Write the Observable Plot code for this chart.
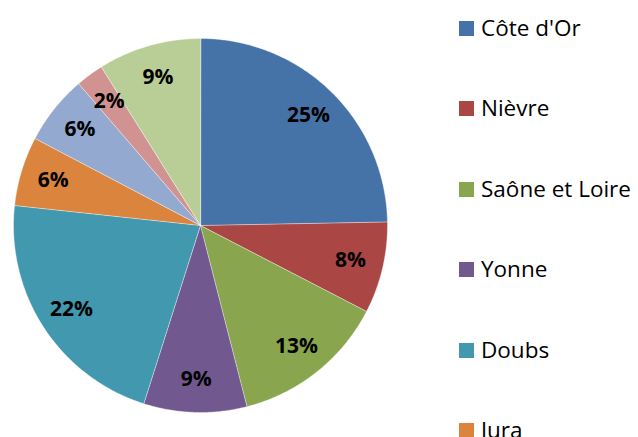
<!DOCTYPE html>
<html>
<head>
<meta charset="utf-8">
<script src="https://cdn.jsdelivr.net/npm/d3@7"></script>
<script src="https://cdn.jsdelivr.net/npm/@observablehq/plot@0.6"></script>
<style>
  html, body { margin: 0; padding: 0; background: #fff; overflow: hidden; width: 638px; height: 437px; }
  #wrap { position: relative; width: 638px; height: 437px; overflow: hidden; }
  #chart { position: absolute; left: 0; top: 0; }
  #legend { position: absolute; left: 459px; top: 0; font-family: "Open Sans", sans-serif; font-size: 22.5px; color: #000; }
  .item { position: absolute; left: 0; display: flex; align-items: center; height: 15px; white-space: nowrap; }
  .sw { width: 15px; height: 15px; margin-right: 7px; flex: none; }
  .lab { position: relative; top: -1px; }
</style>
</head>
<body>
<div id="wrap">
  <div id="chart"></div>
  <div id="legend"></div>
</div>
<script>
// Data
const departements = ["Côte d'Or", "Nièvre", "Saône et Loire", "Yonne", "Doubs", "Jura", "Haute Saône", "Territoire de Belfort", "Autres"];
const parts = [24.7, 7.9, 13.4, 8.9, 21.8, 6.0, 6.0, 2.4, 8.9];
const couleurs = ["#4572A7", "#AA4644", "#89A54E", "#71588F", "#4198AF", "#DB843D", "#93A9CF", "#D19392", "#B9CD96"];

const R = 187;        // pie radius (in px units of the scales)
const labelR = 154;   // label radius

const data = departements.map((name, i) => ({name, value: parts[i]}));
const total = d3.sum(parts);
const arcs = d3.pie().sort(null).value(d => d.value).startAngle(0).endAngle(2 * Math.PI)(data);

// polygon points for each slice
const pts = [];
for (const a of arcs) {
  const name = a.data.name;
  pts.push({name, x: 0, y: 0});
  const n = Math.max(2, Math.ceil((a.endAngle - a.startAngle) / (Math.PI / 360)));
  for (let k = 0; k <= n; k++) {
    const t = a.startAngle + (a.endAngle - a.startAngle) * k / n;
    pts.push({name, x: R * Math.sin(t), y: R * Math.cos(t)});
  }
}
const labels = arcs.map(a => {
  const m = (a.startAngle + a.endAngle) / 2;
  return {name: a.data.name, x: labelR * Math.sin(m), y: labelR * Math.cos(m), text: Math.round(a.data.value / total * 100) + "%"};
});

const plot = Plot.plot({
  width: 420,
  height: 437,
  margin: 0,
  x: {domain: [-200, 220], axis: null},
  y: {domain: [-212, 225], axis: null},
  color: {domain: departements, range: couleurs},
  style: {background: "transparent"},
  marks: [
    Plot.line(pts, {x: "x", y: "y", z: "name", fill: "name", stroke: "#ffffff", strokeWidth: 0.6, strokeOpacity: 0.7, curve: "linear-closed"}),
    Plot.text(labels, {x: "x", y: "y", text: "text", fill: "#000", fontSize: 21, fontWeight: "bold", fontFamily: "Open Sans", textAnchor: "middle"})
  ]
});
document.getElementById("chart").appendChild(plot);

// Legend
const legend = document.getElementById("legend");
departements.forEach((name, i) => {
  const item = document.createElement("div");
  item.className = "item";
  item.style.top = (21 + i * 80.4) + "px";
  const sw = document.createElement("span");
  sw.className = "sw";
  sw.style.background = couleurs[i];
  const lab = document.createElement("span");
  lab.className = "lab";
  lab.textContent = name;
  item.appendChild(sw);
  item.appendChild(lab);
  legend.appendChild(item);
});
</script>
</body>
</html>
